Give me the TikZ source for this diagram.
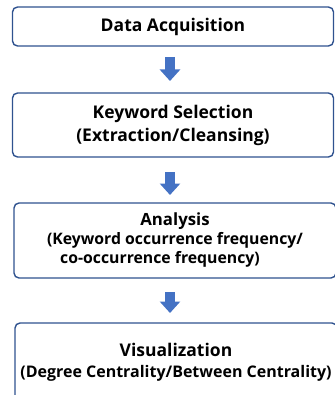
\documentclass[tikz,border=0pt]{standalone}
\usepackage{fontspec}
\setmainfont{Open Sans}
\usepackage{xcolor}
\usetikzlibrary{arrows.meta}
\definecolor{boxblue}{HTML}{2F528F}
\definecolor{arrowblue}{HTML}{4472C4}

\begin{document}
\begin{tikzpicture}[x=1pt,y=1pt,
		stepbox/.style={draw=boxblue,line width=1.4pt,rounded corners=5pt,fill=white,align=center,inner sep=0pt,outer sep=0pt},
		flow/.style={draw=arrowblue,line width=9.5pt,-{Triangle[width=20pt,length=11.5pt]}}]
	\useasboundingbox (0,0) rectangle (334,-395);
	\node[stepbox,minimum width=321pt,minimum height=39pt,font=\bfseries\fontsize{17.5}{20}\selectfont] (acq) at (173,-26.5) {Data Acquisition};
	\node[stepbox,minimum width=321pt,minimum height=64pt,font=\bfseries\fontsize{17.5}{23}\selectfont] (key) at (173,-125) {Keyword Selection\\(Extraction/Cleansing)};
	\node[stepbox,minimum width=322pt,minimum height=75pt,font=\bfseries\fontsize{15.8}{19}\selectfont] (ana) at (175,-240.5)
		{{\fontsize{16.8}{19}\selectfont Analysis}\\(Keyword occurrence frequency/\\co-occurrence frequency)\hspace*{30pt}};
	\node[stepbox,minimum width=322pt,minimum height=79pt,font=\bfseries\fontsize{16}{21}\selectfont] (vis) at (176,-362.5)
		{{\fontsize{17.5}{21}\selectfont Visualization}\\(Degree Centrality/Between Centrality)};
	% block arrows share one column
	\coordinate (arrx) at (170,0);
	\draw[flow,shorten <=11pt,shorten >=12pt] (acq.south -| arrx) -- (key.north -| arrx);
	\draw[flow,shorten <=15pt,shorten >=8pt] (key.south -| arrx) -- (ana.north -| arrx);
	\draw[flow,shorten <=14pt,shorten >=10pt] (ana.south -| arrx) -- (vis.north -| arrx);
\end{tikzpicture}
\end{document}
